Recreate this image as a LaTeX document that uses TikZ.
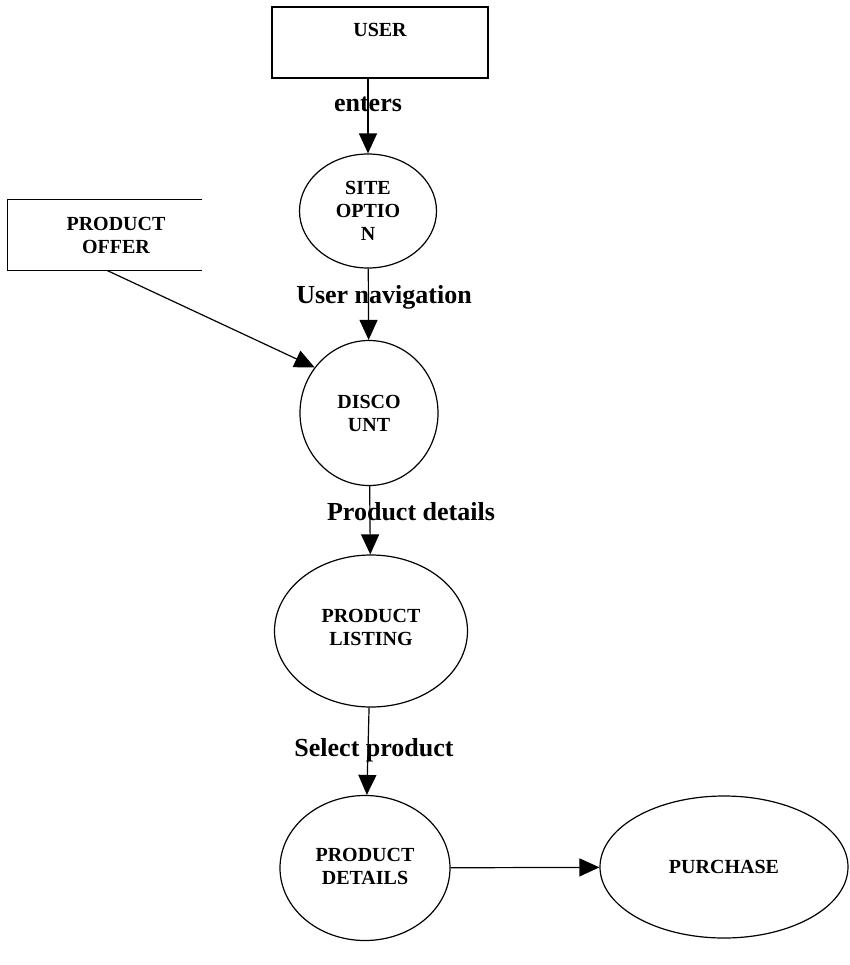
\documentclass[tikz,border=0pt]{standalone}
\usepackage{fontspec}
\setmainfont{Liberation Serif}
\usetikzlibrary{shapes.geometric,arrows.meta}

\tikzset{
  proceso/.style={draw, ellipse, inner sep=0pt, line width=0.6pt,
    font=\bfseries\fontsize{10}{11.5}\selectfont, align=center},
  entidad/.style={rectangle, inner sep=0pt, line width=0.6pt,
    font=\bfseries\fontsize{10}{11.5}\selectfont, align=center},
  flujo/.style={line width=0.6pt, -{Triangle[length=10pt,width=9pt]}},
  etiqueta/.style={font=\bfseries\fontsize{13}{15}\selectfont, inner sep=0pt},
}

\begin{document}
\begin{tikzpicture}[x=0.5pt,y=-0.5pt]
    \useasboundingbox (0,0) rectangle (850,965);

    % Entidades externas: el usuario y la oferta de productos.
    \node[entidad, draw, minimum width=108pt, minimum height=35.5pt, text depth=12.5pt] (user) at (380,42.5) {USER};
    \node[entidad, minimum width=108pt, minimum height=35pt] (offer) at (116,235) {PRODUCT\\OFFER};
    \draw[line width=0.6pt] (offer.north west) ++(97.5pt,0) -- (offer.north west) -- (offer.south west) -- ++(97.5pt,0);

    % Procesos del sistema (elipses).
    \node[proceso, minimum width=68.5pt, minimum height=57pt] (site) at (368,211) {SITE\\OPTIO\\N};
    \node[proceso, minimum width=69pt, minimum height=72.5pt] (disco) at (369,413) {DISCO\\UNT};
    \node[proceso, minimum width=96.5pt, minimum height=76pt, text height=15pt] (listing) at (371,631) {PRODUCT\\LISTING};
    \node[proceso, minimum width=85pt, minimum height=72.5pt, text height=17pt] (details) at (365,868) {PRODUCT\\DETAILS};
    \node[proceso, minimum width=124pt, minimum height=71pt] (purchase) at (724,867) {PURCHASE};

    % Flujos de datos entre entidades y procesos.
    \draw[flujo] ([xshift=-6pt]user.south) -- (site);
    \draw[flujo] (site) -- (disco);
    \draw[flujo] ([xshift=50pt]offer.south west) -- (disco.140);
    \draw[flujo] (disco) -- (listing);
    \draw[flujo] (listing) -- (details);
    \draw[flujo] (details) -- (purchase);

    % Etiquetas de los flujos.
    \node[etiqueta] (lblEnters) at (368,104) {enters};
    \node[etiqueta] (lblNav) at (384,297) {User navigation};
    \node[etiqueta] (lblDet) at (411,512) {Product details};
    \node[etiqueta] (lblSel) at (374,750) {Select product};
\end{tikzpicture}
\end{document}
